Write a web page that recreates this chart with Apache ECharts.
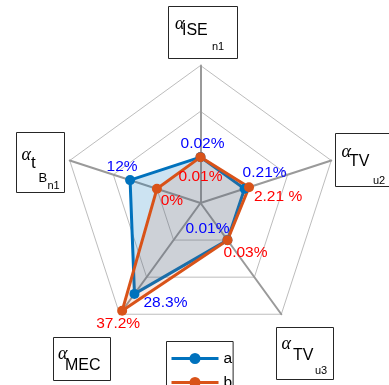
<!DOCTYPE html>
<html>
<head>
<meta charset="utf-8">
<script src="https://cdn.jsdelivr.net/npm/echarts@6/dist/echarts.min.js"></script>
<style>
html, body { margin: 0; padding: 0; background: #fff; }
#chart { width: 389px; height: 385px; }
</style>
</head>
<body>
<div id="chart"></div>
<script>
// Spider axes, listed counter-clockwise starting from the top spoke
const categories = ['ISE_n1', 't_Bn1', 'MEC', 'TV_u3', 'TV_u2'];
const seriesNames = ['a', 'b'];
const valuesA = [0.02, 12, 28.3, 0.01, 0.21];
const valuesB = [0.01, 0, 37.2, 0.03, 2.21];
const unitsA = ['%', '%', '%', '%', '%'];
const unitsB = ['%', '%', '%', '%', ' %'];
// shared scale for every spoke: 0 sits on the inner ring, axisMax on the outer one
const axisMax = 39;

const FONT = 'Liberation Sans, Arial, Helvetica, sans-serif';
const colorA = '#0072BD';
const colorB = '#D95319';

// label offsets (px) from each marker centre, keyed by label text
const labelShift = [
  { '0.02%': [2, -13.5], '12%': [-8, -13], '28.3%': [31, 9], '0.01%': [-20, -11], '0.21%': [20, -16] },
  { '0.01%': [0, 20], '0%': [15, 12], '37.2%': [-4, 13], '0.03%': [18, 13], '2.21 %': [29, 9] }
];

function labelFor(values, units) {
  return function (p) {
    const v = Array.isArray(p.value) ? p.value[0] : p.value;
    const i = values.indexOf(v);
    return v + (i >= 0 ? units[i] : '%');
  };
}

// boxed axis caption: alpha with nested subscripts
function axisTag(box, parts) {
  const children = [{
    type: 'rect',
    shape: { x: box[0], y: box[1], width: box[2], height: box[3] },
    style: { fill: '#fff', stroke: '#262626', lineWidth: 1 }
  }];
  parts.forEach(function (p) {
    const isAlpha = p.t === 'α';
    children.push({
      type: 'text', x: p.x, y: p.y,
      style: {
        text: p.t,
        fontSize: p.s,
        fontFamily: isAlpha ? 'Liberation Serif, DejaVu Serif, serif' : FONT,
        fontStyle: isAlpha ? 'italic' : 'normal',
        fill: '#000',
        align: 'left',
        verticalAlign: 'middle'
      }
    });
  });
  return { type: 'group', children: children };
}

const chart = echarts.init(document.getElementById('chart'), null, { renderer: 'canvas' });

chart.setOption({
  backgroundColor: '#fff',
  animation: false,
  legend: {
    data: seriesNames,
    orient: 'vertical',
    left: 166.5,
    top: 341.5,
    height: 80,
    padding: [9, 1, 14, 5],
    itemGap: 8,
    itemWidth: 47,
    itemHeight: 11,
    borderColor: '#262626',
    borderWidth: 1,
    backgroundColor: '#fff',
    selectedMode: false,
    icon: 'path://M0,4L47,4L47,7L0,7Z M23.5,0A5.5,5.5 0 1,1 23.5,11A5.5,5.5 0 1,1 23.5,0Z',
    textStyle: { fontSize: 15.5, color: '#000', fontFamily: FONT }
  },
  radar: {
    center: [200.5, 203],
    radius: 137.5,
    startAngle: 90,
    shape: 'polygon',
    splitNumber: 3,
    indicator: categories.map(function (c) { return { name: c, min: -axisMax / 2, max: axisMax }; }),
    axisName: { show: false },
    axisLine: { lineStyle: { color: '#9a9a9a', width: 2 } },
    splitLine: { lineStyle: { color: '#bdbdbd', width: 1 } },
    splitArea: { show: false },
    axisTick: { show: false },
    axisLabel: { show: false }
  },
  series: [{
    type: 'radar',
    symbol: 'circle',
    symbolSize: 10,
    labelLayout: function (p) {
      const s = labelShift[p.dataIndex] && labelShift[p.dataIndex][p.text];
      return s ? { dx: s[0], dy: s[1] } : {};
    },
    data: [
      {
        name: seriesNames[0],
        value: valuesA,
        itemStyle: { color: colorA },
        lineStyle: { color: colorA, width: 3 },
        areaStyle: { color: colorA, opacity: 0.2 },
        label: {
          show: true, position: 'inside',
          color: '#0000ff', fontSize: 15.5, fontFamily: FONT,
          formatter: labelFor(valuesA, unitsA)
        }
      },
      {
        name: seriesNames[1],
        value: valuesB,
        itemStyle: { color: colorB },
        lineStyle: { color: colorB, width: 3 },
        areaStyle: { color: colorB, opacity: 0.12 },
        label: {
          show: true, position: 'inside',
          color: '#ff0000', fontSize: 15.5, fontFamily: FONT,
          formatter: labelFor(valuesB, unitsB)
        }
      }
    ]
  }],
  graphic: [
    axisTag([168.5, 6.5, 69, 52], [
      { t: 'α', x: 175, y: 24, s: 18 }, { t: 'ISE', x: 182, y: 31, s: 16 }, { t: 'n1', x: 212, y: 46.5, s: 11 }
    ]),
    axisTag([335.5, 133.5, 60, 53], [
      { t: 'α', x: 341.5, y: 152.5, s: 18 }, { t: 'TV', x: 349, y: 161.5, s: 16 }, { t: 'u2', x: 373, y: 181, s: 11 }
    ]),
    axisTag([276.5, 327.5, 57, 52], [
      { t: 'α', x: 281.5, y: 344, s: 18 }, { t: 'TV', x: 293, y: 355.5, s: 16 }, { t: 'u3', x: 315, y: 371, s: 11 }
    ]),
    axisTag([53.5, 337.5, 57, 43], [
      { t: 'α', x: 58, y: 354, s: 18 }, { t: 'MEC', x: 65, y: 366, s: 16 }
    ]),
    axisTag([16.5, 132.5, 48, 60], [
      { t: 'α', x: 21.5, y: 155.5, s: 18 }, { t: 't', x: 31, y: 163, s: 17 },
      { t: 'B', x: 38.5, y: 178, s: 13 }, { t: 'n1', x: 47.5, y: 185.5, s: 11 }
    ])
  ]
});
</script>
</body>
</html>
